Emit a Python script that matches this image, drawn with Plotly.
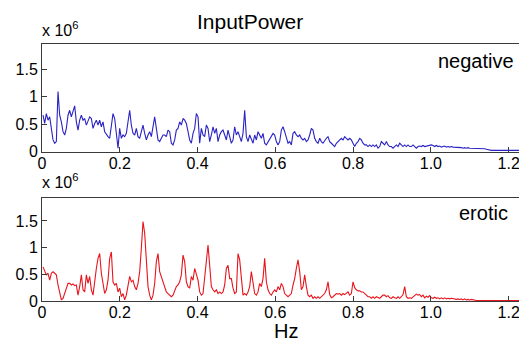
import numpy as np
import plotly.graph_objects as go

# frequency grid (Hz)
freq_start = 0.0026
freq_step = 0.0042857
n_points = 291
freq = freq_start + freq_step * np.arange(n_points)

# InputPower, negative (x 10^6)
negative_a = [0.66,0.51,0.69,0.57,0.63,0.42,0.21,0.15,0.18,1.09,0.66,0.54,0.36,0.30,0.42,0.66,0.75,0.63,0.72,0.83,0.54,0.39,
              0.57,0.66,0.57,0.60,0.48,0.54,0.63,0.60,0.42,0.51,0.57,0.48,0.57,0.45,0.54,0.36,0.30,0.27,0.24,0.48,0.69,0.60,0.30,
              0.06,0.42,0.24,0.30,0.27,0.33,0.54,0.75,0.48,0.33,0.30,0.42,0.27,0.24,0.36,0.48,0.33,0.21,0.30,0.36,0.27,0.42,0.63,
              0.42,0.21,0.18,0.24,0.30,0.30,0.27]
negative_b = [0.39,0.36,0.15,0.12,0.21,0.39,0.42,0.54,0.48,0.60,0.57,0.51,0.36,0.21,0.15,0.33,0.42,0.69,
              0.63,0.15,0.42,0.30,0.27,0.48,0.42,0.18,0.30,0.45,0.33,0.42,0.18,0.30,0.36,0.39,0.30,0.21,0.39,0.27,0.15,0.21,
              0.45,0.30,0.36,0.27,0.18,0.33,0.75,0.27,0.18,0.30,0.24,0.15,0.30,0.21,0.36,0.30,0.24,0.33,0.15,0.12,0.18,0.21,
              0.27,0.33,0.30,0.18,0.12,0.18,0.39,0.45,0.36,0.24,0.15,0.18,0.12]
negative_c = [0.33,0.36,0.30,0.27,0.30,0.24,0.21,0.24,0.18,0.21,0.30,0.42,
              0.39,0.24,0.18,0.15,0.24,0.18,0.15,0.21,0.24,0.27,0.18,0.15,0.12,0.09,0.15,0.18,0.21,0.24,0.21,0.27,0.24,0.21,
              0.24,0.21,0.15,0.09,0.15,0.18,0.24,0.21,0.15,0.12,0.12,0.09,0.12,0.09,0.12,0.09,0.12,0.06,0.09,0.18,0.15,0.12,
              0.18,0.12,0.09,0.09,0.06,0.09,0.12,0.09,0.15,0.12,0.09,0.12,0.09,0.12,0.09,0.09,0.12,0.09,0.06]
negative_d = [0.09,0.10,0.09,0.11,0.09,0.10,0.11,0.12,0.12,0.11,0.09,0.11,0.09,0.10,0.08,0.09,0.10,0.08,0.09,0.08,0.09,
              0.08,0.08,0.07,0.08,0.08,0.07,0.06,0.07,0.06,0.07,0.06,0.06,0.06,0.06,0.06,0.05,0.06,0.05,0.06,0.05,0.04,
              0.03,0.03,0.02,0.02,0.02,0.02,0.02,0.02,0.02,0.02,0.02,0.02,0.02,0.02,0.02,0.02,0.02,0.02,0.02,0.02,0.02,
              0.02,0.02,0.02]

# InputPower, erotic (x 10^6)
erotic_a = [0.64,0.58,0.49,0.52,0.39,0.52,0.55,0.52,0.49,0.30,0.14,0.02,0.05,0.14,0.24,0.33,0.33,0.30,0.32,0.29,
            0.30,0.11,0.27,0.49,0.21,0.17,0.49,0.33,0.46,0.21,0.11,0.39,0.61,0.80,0.89,0.52,0.36,0.14,0.21,0.39,
            0.80,0.92,0.36,0.30,0.33,0.17,0.24,0.08,0.14,0.02,0.11,0.27,0.46,0.36,0.39,0.27,0.21,0.33,0.55,0.99,
            1.49,1.27,0.74,0.27,0.11,0.02,0.11,0.33,0.74,0.89,0.55,0.46,0.36,0.24,0.17]
erotic_b = [0.14,0.11,0.08,0.11,0.21,0.27,0.30,0.36,0.49,0.86,0.74,0.36,0.27,0.24,0.46,0.39,0.61,0.52,0.39,0.17,
            0.11,0.14,0.42,0.80,1.05,0.67,0.27,0.21,0.17,0.21,0.14,0.17,0.14,0.17,0.30,0.61,0.67,0.42,0.42,0.24,
            0.14,0.17,0.89,0.77,0.36,0.11,0.14,0.11,0.17,0.27,0.55,0.30,0.14,0.11,0.17,0.33,0.27,0.42,0.80,0.36,
            0.21,0.14,0.11,0.17,0.21,0.17,0.27,0.21,0.33,0.27,0.14,0.11,0.08,0.11,0.14]
erotic_c = [0.30,0.42,0.61,0.77,0.55,0.21,0.27,0.49,0.27,0.11,0.08,0.11,0.05,0.08,0.05,0.08,0.05,0.08,0.11,0.14,
            0.21,0.36,0.12,0.06,0.08,0.11,0.14,0.13,0.14,0.11,0.14,0.12,0.14,0.17,0.11,0.14,0.36,0.25,0.21,0.19,
            0.19,0.17,0.17,0.14,0.11,0.08,0.08,0.05,0.08,0.05,0.08,0.06,0.05,0.08,0.11,0.11,0.08,0.10,0.06,0.05,
            0.08,0.06,0.05,0.08,0.05,0.08,0.12,0.27,0.08,0.05,0.06,0.05,0.08,0.11,0.13]
erotic_d = [0.11,0.12,0.08,0.11,0.06,0.09,0.07,0.10,0.06,0.05,0.07,0.05,0.06,0.04,0.06,0.04,0.06,0.04,0.05,0.04,
            0.05,0.04,0.04,0.03,0.04,0.03,0.04,0.02,0.04,0.02,0.03,0.02,0.03,0.02,
            0.01,0.01,0.01,0.01,0.01,0.01,0.01,0.01,0.01,0.01,0.01,0.01,0.01,0.01,0.01,0.01,
            0.01,0.01,0.01,0.01,0.01,0.01,0.01,0.01,0.01,0.01,0.01,0.01,0.01,0.01,0.01,0.01]

negative = negative_a + negative_b + negative_c + negative_d
erotic = erotic_a + erotic_b + erotic_c + erotic_d

x_tickvals = [0, 0.2, 0.4, 0.6, 0.8, 1.0, 1.2]
x_ticktext = ["0", "0.2", "0.4", "0.6", "0.8", "1.0", "1.2"]
y_tickvals = [0, 0.5, 1, 1.5]
y_ticktext = ["0", "0.5", "1", "1.5"]

# page body has an 8px margin: figure starts at (8, 8) in the 527x345 window
OFF = 8
W, H = 527 - OFF, 345 - OFF
FONT = "Liberation Sans, Arial, Helvetica, sans-serif"
AX = "#3a3a3a"

def px_x(px):
    return (px - OFF) / W

def px_y(py):
    return 1 - (py - OFF) / H

fig = go.Figure()
fig.add_trace(go.Scatter(x=freq, y=negative[:len(freq)], mode="lines",
                         line=dict(color="#2a22c4", width=1.1), xaxis="x", yaxis="y", showlegend=False))
fig.add_trace(go.Scatter(x=freq, y=erotic[:len(freq)], mode="lines",
                         line=dict(color="#e8141c", width=1.1), xaxis="x2", yaxis="y2", showlegend=False))
# helper traces so right-side tick axes render
fig.add_trace(go.Scatter(x=[], y=[], xaxis="x", yaxis="y3", showlegend=False))
fig.add_trace(go.Scatter(x=[], y=[], xaxis="x2", yaxis="y4", showlegend=False))

x_range = [0, 1.2471]
y_range_top = [0, 1.955]
y_range_bot = [0, 1.94]
dom_x = [px_x(42), 1.0]
dom_top = [px_y(151.5), px_y(44)]
dom_bot = [px_y(301), px_y(197.5)]

xcommon = dict(range=x_range, domain=dom_x, tickvals=x_tickvals, ticktext=x_ticktext,
               ticks="inside", ticklen=5, tickcolor=AX, showline=True, linecolor=AX, linewidth=1,
               mirror=True, showgrid=False, zeroline=False, automargin=False, ticklabelstandoff=-3,
               tickfont=dict(family=FONT, size=16, color="black"))
ycommon = dict(tickvals=y_tickvals, ticktext=y_ticktext, ticks="inside", ticklen=5, tickcolor=AX,
               showline=True, linecolor=AX, linewidth=1, showgrid=False, zeroline=False, automargin=False,
               tickfont=dict(family=FONT, size=16, color="black"))
yright = dict(tickvals=[0.5, 1, 1.5], ticks="inside", ticklen=5, tickcolor=AX, showline=False,
              showticklabels=False, showgrid=False, zeroline=False, side="right", automargin=False)

fig.update_layout(
    width=W, height=H, margin=dict(l=0, r=0, t=0, b=0),
    paper_bgcolor="white", plot_bgcolor="white",
    xaxis=dict(anchor="y", **xcommon),
    xaxis2=dict(anchor="y2", **xcommon),
    yaxis=dict(anchor="x", domain=dom_top, range=y_range_top, **ycommon),
    yaxis2=dict(anchor="x2", domain=dom_bot, range=y_range_bot, **ycommon),
    yaxis3=dict(anchor="x", overlaying="y", range=y_range_top, **yright),
    yaxis4=dict(anchor="x2", overlaying="y2", range=y_range_bot, **yright),
)

def ann(text, px, py, size, xanchor="center"):
    fig.add_annotation(text=text, x=px_x(px), y=px_y(py), xref="paper", yref="paper",
                       xanchor=xanchor, yanchor="middle", showarrow=False,
                       font=dict(family=FONT, size=size, color="black"))

ann("InputPower", 250, 21, 21)
ann("x 10<sup>6</sup>", 40, 29, 16, xanchor="left")
ann("x 10<sup>6</sup>", 40, 181, 16, xanchor="left")
ann("negative", 516, 61, 20, xanchor="right")
ann("erotic", 510, 213, 20, xanchor="right")
ann("Hz", 286, 331, 20)

fig.write_html("out.html")
